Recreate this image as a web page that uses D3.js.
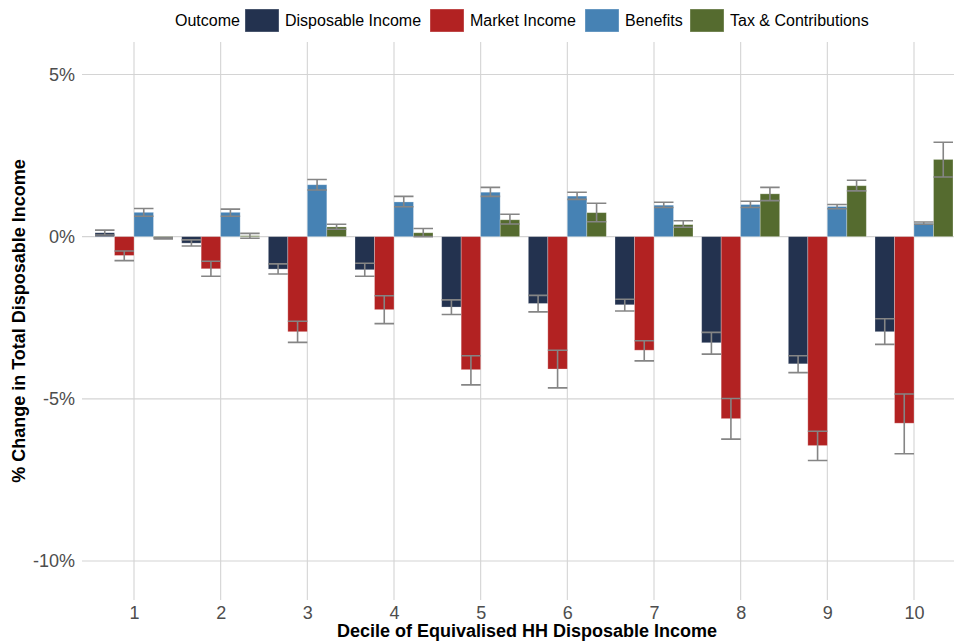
<!DOCTYPE html>
<html>
<head>
<meta charset="utf-8">
<script src="https://cdn.jsdelivr.net/npm/d3@7"></script>
<style>
  html, body { margin: 0; padding: 0; background: #fff; }
  svg { display: block; font-family: "Liberation Sans", Arial, Helvetica, sans-serif; }
</style>
</head>
<body>
<svg id="chart" width="954" height="643"></svg>
<script>
// Deciles of equivalised household disposable income
const deciles = ["1", "2", "3", "4", "5", "6", "7", "8", "9", "10"];

// Outcome series, in dodge order
const outcomes = ["Disposable Income", "Market Income", "Benefits", "Tax & Contributions"];
const outcomeColors = ["#23324f", "#b22222", "#4682b4", "#556b2f"];

// % change in total disposable income, one value per decile
const disposableIncome = [0.12, -0.20, -1.00, -1.02, -2.17, -2.06, -2.10, -3.27, -3.92, -2.93];
const marketIncome     = [-0.58, -0.99, -2.93, -2.25, -4.10, -4.08, -3.50, -5.61, -6.44, -5.75];
const benefits         = [0.75, 0.75, 1.60, 1.07, 1.37, 1.25, 0.97, 0.99, 0.93, 0.41];
const taxContributions = [-0.05, 0.03, 0.30, 0.12, 0.52, 0.74, 0.37, 1.32, 1.57, 2.38];

// Lower / upper ends of the error bars
const disposableLow  = [0.05, -0.29, -1.15, -1.22, -2.40, -2.32, -2.29, -3.62, -4.19, -3.32];
const disposableHigh = [0.20, -0.10, -0.84, -0.82, -1.95, -1.81, -1.93, -2.95, -3.67, -2.53];
const marketLow      = [-0.74, -1.22, -3.26, -2.68, -4.57, -4.66, -3.83, -6.24, -6.90, -6.69];
const marketHigh     = [-0.44, -0.76, -2.61, -1.82, -3.67, -3.50, -3.21, -4.99, -6.00, -4.85];
const benefitsLow    = [0.63, 0.63, 1.44, 0.92, 1.24, 1.15, 0.90, 0.90, 0.86, 0.38];
const benefitsHigh   = [0.87, 0.85, 1.76, 1.24, 1.52, 1.37, 1.06, 1.09, 0.99, 0.45];
const taxLow         = [-0.07, -0.05, 0.23, 0.00, 0.39, 0.46, 0.29, 1.11, 1.41, 1.84];
const taxHigh        = [-0.03, 0.10, 0.38, 0.25, 0.69, 1.03, 0.49, 1.52, 1.74, 2.91];

// Y axis ticks (percent)
const yTicks = [5, 0, -5, -10];

const seriesValues = [disposableIncome, marketIncome, benefits, taxContributions];
const seriesLow = [disposableLow, marketLow, benefitsLow, taxLow];
const seriesHigh = [disposableHigh, marketHigh, benefitsHigh, taxHigh];

const rows = [];
deciles.forEach((d, i) => {
  outcomes.forEach((o, j) => {
    rows.push({ decile: d, outcome: o, value: seriesValues[j][i], low: seriesLow[j][i], high: seriesHigh[j][i] });
  });
});

const svg = d3.select("#chart");
const panel = { left: 82, right: 966, top: 42, bottom: 600 };

// Discrete axis with 0.6 unit expansion on each side
const step = (panel.right - panel.left) / (deciles.length - 1 + 1.2);
const x = d3.scalePoint().domain(deciles)
  .range([panel.left + 0.6 * step, panel.right - 0.6 * step]);
const dodge = d3.scaleBand().domain(outcomes)
  .range([-0.45 * step, 0.45 * step]).padding(0);

const y = d3.scaleLinear().domain([-11.2, 6]).range([panel.bottom, panel.top]);
const color = d3.scaleOrdinal().domain(outcomes).range(outcomeColors);

// Grid
const grid = svg.append("g").attr("stroke", "#d4d4d4").attr("stroke-width", 1.1);
grid.selectAll("line.h").data(yTicks).join("line")
  .attr("x1", panel.left).attr("x2", panel.right)
  .attr("y1", d => y(d)).attr("y2", d => y(d));
grid.selectAll("line.v").data(deciles).join("line")
  .attr("x1", d => x(d)).attr("x2", d => x(d))
  .attr("y1", panel.top).attr("y2", panel.bottom);

// Bars
svg.append("g").selectAll("rect").data(rows).join("rect")
  .attr("x", d => x(d.decile) + dodge(d.outcome))
  .attr("width", dodge.bandwidth())
  .attr("y", d => y(Math.max(0, d.value)))
  .attr("height", d => Math.abs(y(d.value) - y(0)))
  .attr("fill", d => color(d.outcome))
  .attr("stroke", "#ffffff").attr("stroke-opacity", 0.35).attr("stroke-width", 0.8);

// Error bars
const eb = svg.append("g").attr("stroke", "#858585").attr("stroke-width", 1.6).attr("fill", "none");
const cx = d => x(d.decile) + dodge(d.outcome) + dodge.bandwidth() / 2;
const half = dodge.bandwidth() / 2;
eb.selectAll("path").data(rows).join("path")
  .attr("d", d => {
    const c = cx(d), yl = y(d.low), yh = y(d.high);
    return `M${c - half},${yh}H${c + half}M${c},${yh}V${yl}M${c - half},${yl}H${c + half}`;
  });

// Y axis labels
const yAxis = svg.append("g").attr("transform", `translate(${panel.left},0)`)
  .call(d3.axisLeft(y).tickValues(yTicks).tickFormat(d => d + "%").tickSize(0).tickPadding(7));
yAxis.select(".domain").remove();
yAxis.selectAll("text").attr("font-size", 18).attr("fill", "#4d4d4d")
  .attr("font-family", "'Liberation Sans', Arial, sans-serif");

// X axis labels
const xAxis = svg.append("g").attr("transform", `translate(0,${panel.bottom})`)
  .call(d3.axisBottom(x).tickSize(0).tickPadding(6));
xAxis.select(".domain").remove();
xAxis.selectAll("text").attr("font-size", 18).attr("fill", "#4d4d4d")
  .attr("font-family", "'Liberation Sans', Arial, sans-serif");

// Axis titles
svg.append("text")
  .attr("x", (panel.left + panel.right) / 2 + 3).attr("y", 637)
  .attr("text-anchor", "middle").attr("font-size", 18).attr("font-weight", "bold")
  .attr("fill", "#000").text("Decile of Equivalised HH Disposable Income");
svg.append("text")
  .attr("transform", `translate(25,${(panel.top + panel.bottom) / 2}) rotate(-90)`)
  .attr("text-anchor", "middle").attr("font-size", 18).attr("font-weight", "bold")
  .attr("fill", "#000").text("% Change in Total Disposable Income");

// Legend
const legend = svg.append("g").attr("font-size", 16).attr("fill", "#000");
legend.append("text").attr("x", 175).attr("y", 26).text("Outcome");
const keyX = [245, 430, 585, 690];
outcomes.forEach((o, j) => {
  legend.append("rect").attr("x", keyX[j]).attr("y", 9).attr("width", 34).attr("height", 23)
    .attr("fill", color(o)).attr("stroke", "#ffffff").attr("stroke-opacity", 0.35);
  legend.append("text").attr("x", keyX[j] + 40).attr("y", 26).text(o);
});
</script>
</body>
</html>
